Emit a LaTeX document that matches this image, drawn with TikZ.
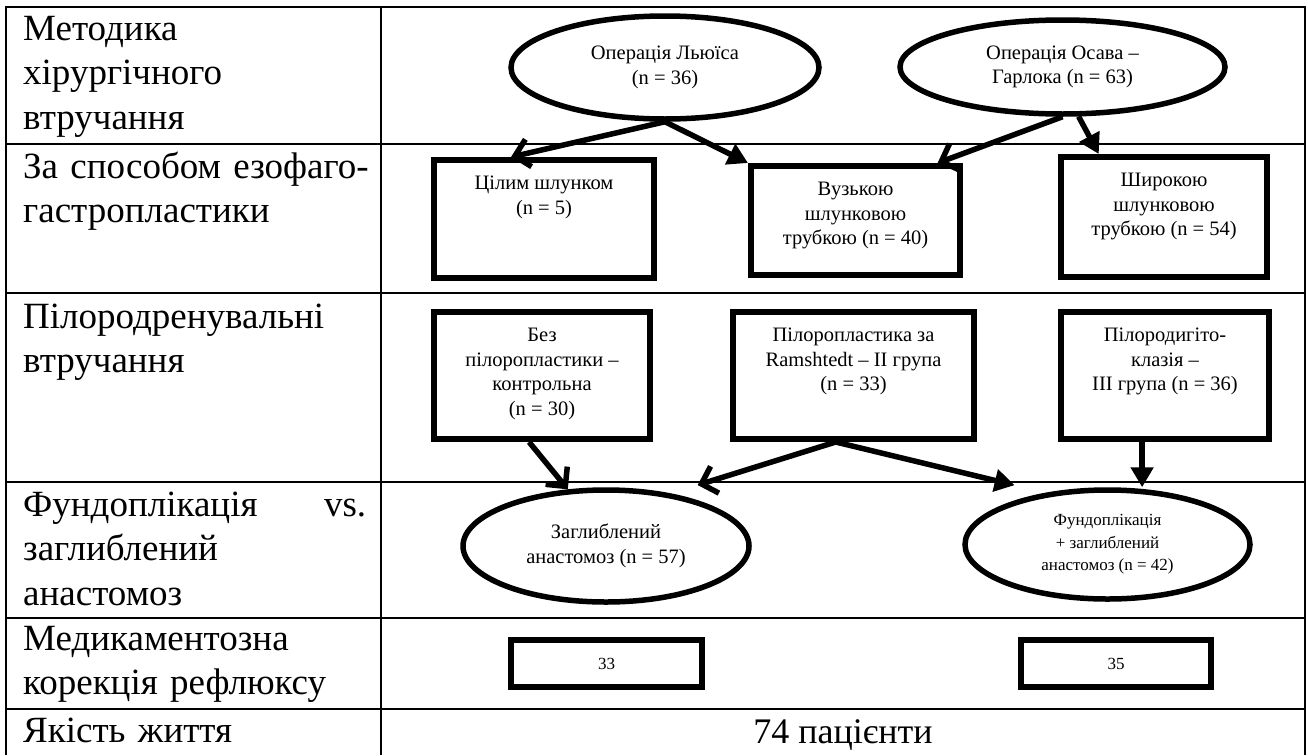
\documentclass[tikz,border=0pt]{standalone}
\usepackage{fontspec}
\setmainfont{Liberation Serif}
\usetikzlibrary{shapes.geometric,arrows.meta}
\newcommand{\boxtxt}[3]{\parbox[c][#2][t]{#1}{\centering\vspace*{16pt}#3}}

\begin{document}
\begin{tikzpicture}[x=1pt,y=-1pt,
		grid/.style={line width=2.6pt},
		head/.style={anchor=base west, align=left, text width=360pt, inner sep=0pt, font=\fontsize{37}{44.5}\selectfont},
		ell/.style={ellipse, draw, line width=5.5pt, inner sep=0pt, align=center, font=\fontsize{20.5}{24.7}\selectfont},
		rbox/.style={rectangle, draw, line width=6pt, inner sep=0pt, font=\fontsize{20.5}{24.7}\selectfont},
		arr/.style={line width=5.5pt, -{Straight Barb[length=14pt,width=28pt]}},
		arrt/.style={line width=5.5pt, -{Triangle[length=20pt,width=22pt]}}]
		\useasboundingbox (0,0) rectangle (1308,755);
		
		% table
		\draw[grid] (6,755) -- (6,7) -- (1305,7) -- (1305,755);
		\draw[grid] (381,7) -- (381,755);
		\foreach \y in {144,293,482,618,709}
			\draw[grid] (6,\y) -- (1305,\y);
		
		\node[head] (h1) at (23,40) {Методика\\хірургічного\\втручання};
		\node[head] (h2) at (23,178) {За способом езофаго-\\гастропластики};
		\node[head] (h3) at (23,328) {Пілородренувальні\\втручання};
		\node[head, text width=343pt] (h4) at (23,516) {Фундоплікація\hfill vs.\\заглиблений\\анастомоз};
		\node[head] (h5) at (23,650) {Медикаментозна\\корекція рефлюксу};
		\node[head] (h6) at (23,742) {Якість життя};
		
		% operations
		\node[ell, minimum width=308pt, minimum height=103pt] (lew) at (665,67.5) {Операція Льюїса\\(n = 36)};
		\node[ell, minimum width=325pt, minimum height=94pt] (osa) at (1062.5,67) {Операція Осава –\\Гарлока (n = 63)};
		
		\node[rbox] (cil) at (544,219) {\boxtxt{220pt}{118pt}{Цілим шлунком\\(n = 5)}};
		\node[rbox] (vuz) at (855.5,220.5) {\boxtxt{209pt}{109pt}{Вузькою\\шлунковою\\трубкою (n = 40)}};
		\node[rbox] (shyr) at (1164,217) {\boxtxt{206pt}{120pt}{Широкою\\шлунковою\\трубкою (n = 54)}};
		
		\node[rbox] (bez) at (542,375.5) {\boxtxt{216pt}{127pt}{Без\\пілоропластики –\\контрольна\\(n = 30)}};
		\node[rbox] (ram) at (853.5,375.5) {\boxtxt{241pt}{127pt}{Пілоропластика за\\Ramshtedt – II група\\(n = 33)}};
		\node[rbox] (pil) at (1165,375.5) {\boxtxt{208pt}{127pt}{Пілородигіто-\\клазія –\\III група (n = 36)}};
		
		\node[ell, minimum width=286pt, minimum height=112pt] (zag) at (606,546) {Заглиблений\\анастомоз (n = 57)};
		\node[ell, minimum width=285pt, minimum height=109pt, font=\fontsize{17}{22.5}\selectfont] (fun) at (1107.5,544.5) {Фундоплікація\\+ заглиблений\\анастомоз (n = 42)};
		
		\node[rbox, minimum width=191pt, minimum height=47pt, font=\fontsize{17}{20}\selectfont] (k33) at (606.5,663.5) {33};
		\node[rbox, minimum width=190pt, minimum height=47pt, font=\fontsize{17}{20}\selectfont] (k35) at (1116,663.5) {35};
		\node[anchor=base, inner sep=0pt, font=\fontsize{36}{43}\selectfont] (all) at (843,743) {74 пацієнти};
		
		% arrows
		\draw[arr] (lew.south) -- (cil.118);
		\draw[arrt] (lew.south) -- (vuz.north west);
		\draw[arr] (osa.south) -- (vuz.35);
		\draw[arrt] (osa.288) -- (shyr.136);
		\draw[arr] (bez.259) -- (zag.124);
		\draw[arr, shorten >=28pt] (ram.255) -- (zag.39);
		\draw[arrt, shorten >=32pt] (ram.255) -- (fun.140);
		\draw[arrt] (pil.251) -- (pil.251 |- fun.north);
\end{tikzpicture}
\end{document}
